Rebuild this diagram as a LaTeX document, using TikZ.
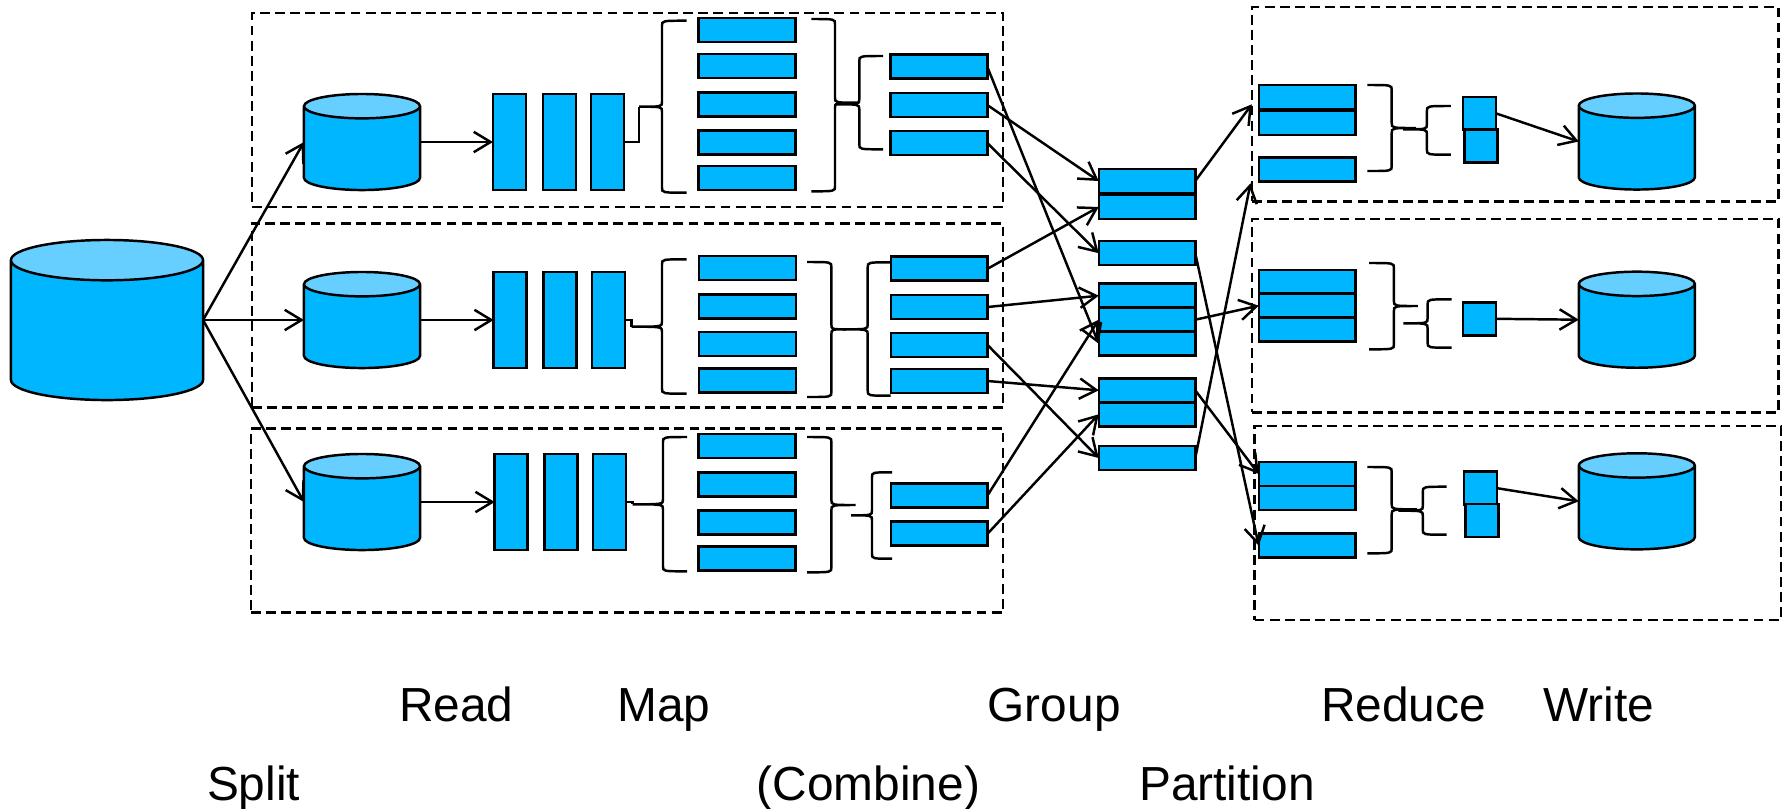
\documentclass[tikz,border=0pt]{standalone}
\usepackage{fontspec}
\setmainfont{Liberation Sans}
\usetikzlibrary{arrows.meta,shapes.geometric}
\definecolor{bodyblue}{HTML}{00B7FF}
\definecolor{capblue}{HTML}{66CFFF}
\tikzset{
    bar/.style={draw,fill=bodyblue,inner sep=0,outer sep=0},
    readbar/.style={bar,minimum width=0.33cm,minimum height=0.96cm},
    recbar/.style={bar,minimum width=0.965cm,minimum height=0.24cm},
    keybar/.style={bar,minimum width=0.33cm,minimum height=0.33cm},
    stage/.style={draw,dash pattern=on 2.8pt off 1.5pt,inner sep=0,outer sep=0},
    disk/.style={cylinder,draw,anchor=shape center,shape border rotate=90,aspect=0.21,inner xsep=0.58cm,inner ysep=0.1cm,outer sep=0,
        cylinder uses custom fill,cylinder body fill=bodyblue,cylinder end fill=capblue,
        minimum width=1.16cm,minimum height=0.96cm},
    bigdisk/.style={disk,inner xsep=0.96cm,minimum width=1.92cm,minimum height=1.6cm},
    steplabel/.style={font=\fontsize{13.6pt}{16pt}\selectfont,inner sep=0,anchor=base west},
}
\newcommand{\curlyb}[6]{\draw (#3,#4) .. controls (#2,#4) .. (#2,#4+5) -- (#2,#5-5) .. controls (#2,#5) .. (#1,#5) .. controls (#2,#5) .. (#2,#5+5) -- (#2,#6-5) .. controls (#2,#6) .. (#3,#6);}
\begin{document}
\begin{tikzpicture}[x=0.01cm,y=-0.01cm,line width=0.7pt,>={Straight Barb[length=4.8pt,width=5.8pt]}]
    \useasboundingbox (0,0) rectangle (1787,808);

    \node[stage,minimum width=7.51cm,minimum height=1.934cm] (StageA) at (627.5,110) {};
    \node[stage,minimum width=7.51cm,minimum height=1.836cm] (StageB) at (627.5,315.5) {};
    \node[stage,minimum width=7.52cm,minimum height=1.836cm] (StageC) at (627,520.5) {};
    \node[stage,minimum width=5.264cm,minimum height=1.94cm] (StageD) at (1515.2,104.3) {};
    \node[stage,minimum width=5.264cm,minimum height=1.933cm] (StageE) at (1515.2,315.7) {};
    \node[stage,minimum width=5.263cm,minimum height=1.937cm] (StageF) at (1517.9,522.9) {};

    \node[bigdisk] (Input) at (107,320) {};
    \node[disk] (DiskA) at (362,142) {};
    \node[disk] (DiskB) at (362,320) {};
    \node[disk] (DiskC) at (362,502) {};
    \node[disk,minimum width=1.15cm] (OutA) at (1636.8,141.5) {};
    \node[disk,minimum width=1.15cm] (OutB) at (1636.8,319.7) {};
    \node[disk,minimum width=1.15cm] (OutC) at (1636.8,501.3) {};

    \node[readbar] (ReadA1) at (509.5,142) {};
    \node[readbar] (ReadA2) at (559.5,142) {};
    \node[readbar] (ReadA3) at (607.5,142) {};
    \node[readbar] (ReadB1) at (510.2,320) {};
    \node[readbar] (ReadB2) at (559.8,320) {};
    \node[readbar] (ReadB3) at (608.3,320) {};
    \node[readbar] (ReadC1) at (511.2,502) {};
    \node[readbar] (ReadC2) at (561.2,502) {};
    \node[readbar] (ReadC3) at (609.3,502) {};

    \node[recbar] (MapA1) at (747,30) {};
    \node[recbar] (MapA2) at (747,66) {};
    \node[recbar] (MapA3) at (747,104.3) {};
    \node[recbar] (MapA4) at (747,142.3) {};
    \node[recbar] (MapA5) at (747,178.2) {};
    \node[recbar] (MapB1) at (747.5,268) {};
    \node[recbar] (MapB2) at (747.5,306.3) {};
    \node[recbar] (MapB3) at (747.5,344) {};
    \node[recbar] (MapB4) at (747.5,380.3) {};
    \node[recbar] (MapC1) at (747,446) {};
    \node[recbar] (MapC2) at (747,484.3) {};
    \node[recbar] (MapC3) at (747,522.3) {};
    \node[recbar] (MapC4) at (747,558.3) {};

    \node[recbar] (CombA1) at (939,66.7) {};
    \node[recbar] (CombA2) at (939,105) {};
    \node[recbar] (CombA3) at (939,143) {};
    \node[recbar] (CombB1) at (939.3,268.7) {};
    \node[recbar] (CombB2) at (939.3,307) {};
    \node[recbar] (CombB3) at (939.3,345) {};
    \node[recbar] (CombB4) at (939.3,381) {};
    \node[recbar] (CombC1) at (939.3,495.3) {};
    \node[recbar] (CombC2) at (939.3,533.7) {};

    \node[recbar] (GroupA1) at (1147,181) {};
    \node[recbar] (GroupA2) at (1147,207) {};
    \node[recbar] (GroupB) at (1147,253.2) {};
    \node[recbar] (GroupC1) at (1147,295.7) {};
    \node[recbar] (GroupC2) at (1147,319.7) {};
    \node[recbar] (GroupC3) at (1147,343.7) {};
    \node[recbar] (GroupD1) at (1147,390.3) {};
    \node[recbar] (GroupD2) at (1147,414.3) {};
    \node[recbar] (GroupE) at (1147,458) {};

    \node[recbar] (PartA1) at (1307,97) {};
    \node[recbar] (PartA2) at (1307,123) {};
    \node[recbar] (PartA3) at (1307,169.3) {};
    \node[recbar] (PartB1) at (1307,281.8) {};
    \node[recbar] (PartB2) at (1307,305.7) {};
    \node[recbar] (PartB3) at (1307,329.7) {};
    \node[recbar] (PartC1) at (1307,474) {};
    \node[recbar] (PartC2) at (1307,498) {};
    \node[recbar] (PartC3) at (1307,545.7) {};

    \node[keybar] (KeyA1) at (1479.3,113.3) {};
    \node[keybar] (KeyA2) at (1480.8,145.8) {};
    \node[keybar] (KeyB) at (1479.3,318.8) {};
    \node[keybar] (KeyC1) at (1480.7,488.2) {};
    \node[keybar] (KeyC2) at (1481.9,520.7) {};

    \curlyb{639}{662}{686.7}{20.7}{106.7}{192.7}
    \curlyb{859}{835}{811.4}{19}{102.7}{191.3}
    \curlyb{835}{859.3}{883}{56}{104.3}{149.3}
    \curlyb{631.5}{662}{686.7}{259.3}{326.7}{393.7}
    \curlyb{846}{831.4}{807.2}{262}{329.3}{397}
    \curlyb{842.8}{867.7}{890.7}{262.3}{329.3}{395.7}
    \curlyb{632.5}{663}{687}{437}{504.3}{571.3}
    \curlyb{855.5}{831.4}{807.2}{437}{505}{572.3}
    \curlyb{851}{872}{892.2}{472.3}{515.3}{558.7}
    \curlyb{1416}{1391.7}{1367.4}{85}{128}{171}
    \curlyb{1403}{1426.9}{1450.8}{106}{129.3}{154.7}
    \curlyb{1417.9}{1393.9}{1369.2}{263}{306}{349.3}
    \curlyb{1403.3}{1427.6}{1451.6}{299.3}{323.3}{347.7}
    \curlyb{1417}{1391.7}{1367.4}{467}{509.3}{553.3}
    \curlyb{1398.4}{1422.8}{1446.7}{486.7}{510.7}{534.7}

    \coordinate (TipA) at (639,106.7);
    \coordinate (TipB) at (631.5,326.7);
    \coordinate (TipC) at (632.5,504.3);
    \coordinate (LateEnd) at (1250.5,183.3);

    \draw (ReadA3.east) -| (TipA);
    \draw (ReadB3.east) -| (TipB);
    \draw (ReadC3.east) -| (TipC);

    \draw[->] (Input.shape center -| Input.east) -- (DiskA.shape center -| DiskA.west);
    \draw[->] (Input.shape center -| Input.east) -- (DiskB.shape center -| DiskB.west);
    \draw[->] (Input.shape center -| Input.east) -- (DiskC.shape center -| DiskC.west);
    \draw[->] (DiskA.shape center -| DiskA.east) -- (ReadA1.west);
    \draw[->] (DiskB.shape center -| DiskB.east) -- (ReadB1.west);
    \draw[->] (DiskC.shape center -| DiskC.east) -- (ReadC1.west);

    \draw[->] (CombA1.east) -- (GroupC3.west);
    \draw[->] (CombA2.east) -- (GroupA1.west);
    \draw[->] (CombA3.east) -- (GroupB.west);
    \draw[->] (CombB1.east) -- (GroupA2.west);
    \draw[->] (CombB2.east) -- (GroupC1.west);
    \draw[->] (CombB3.east) -- (GroupE.west);
    \draw[->] (CombB4.east) -- (GroupD1.west);
    \draw[->] (CombC1.east) -- (GroupC2.west);
    \draw[->] (CombC2.east) -- (GroupD2.west);

    \draw[->] (GroupA1.east) -- (StageD.west);
    \draw[->] (GroupB.east) -- (PartC3.west);
    \draw[->] (GroupC2.east) -- (PartB2.west);
    \draw[->] (GroupD1.east) -- (PartC1.west);
    \draw[->] (GroupE.east) -- (LateEnd);

    \draw[->] (KeyA1.east) -- (OutA.shape center -| OutA.west);
    \draw[->] (KeyB.east) -- (OutB.shape center -| OutB.west);
    \draw[->] (KeyC1.east) -- (OutC.shape center -| OutC.west);

    \node[steplabel] (ReadText) at (398,721.5) {Read};
    \node[steplabel] (MapText) at (616,721.5) {Map};
    \node[steplabel] (GroupText) at (986.5,721.5) {Group};
    \node[steplabel] (ReduceText) at (1320,721.5) {Reduce};
    \node[steplabel] (WriteText) at (1542,721.5) {Write};
    \node[steplabel] (SplitText) at (205.8,800) {Split};
    \node[steplabel] (CombineText) at (755.5,800) {(Combine)};
    \node[steplabel] (PartitionText) at (1138,800) {Partition};
\end{tikzpicture}
\end{document}
